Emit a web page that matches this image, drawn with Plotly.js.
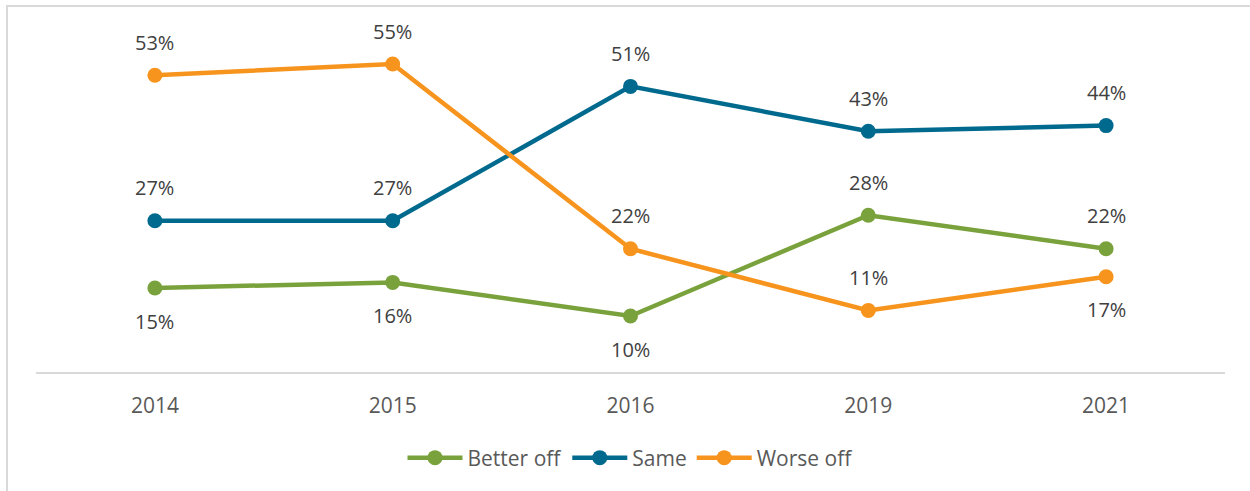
<!DOCTYPE html>
<html>
<head>
<meta charset="utf-8">
<script src="https://cdn.plot.ly/plotly-3.0.1.min.js"></script>
<style>
html,body{margin:0;padding:0;background:#fff;}
#wrap{position:relative;width:1250px;height:491px;overflow:hidden;}
#frame{position:absolute;left:6px;top:5px;width:1300px;height:600px;border-left:2px solid #d9d9d9;border-top:2px solid #d9d9d9;pointer-events:none;}
#chart{position:absolute;left:0;top:0;width:1250px;height:491px;}
</style>
</head>
<body>
<div id="wrap">
<div id="chart"></div>
<div id="frame"></div>
</div>
<script>
const years = ["2014", "2015", "2016", "2019", "2021"];
const betterOff = [15, 16, 10, 28, 22];
const same = [27, 27, 51, 43, 44];
const worseOff = [53, 55, 22, 11, 17];
// +1 = label above the point, -1 = label below
const betterPos = [-1, -1, -1, 1, 1];
const samePos = [1, 1, 1, 1, 1];
const worsePos = [1, 1, 1, 1, -1];

const fontFam = "Open Sans, sans-serif";
function series(name, vals, color) {
  return {
    x: years, y: vals, name: name, type: "scatter", mode: "lines+markers",
    line: {color: color, width: 4.5},
    marker: {color: color, size: 15},
    cliponaxis: false,
    hoverinfo: "x+y"
  };
}
const data = [
  series("Better off", betterOff, "#7AA23C"),
  series("Same", same, "#006A8E"),
  series("Worse off", worseOff, "#F7941D")
];
const annotations = [];
[[betterOff, betterPos], [same, samePos], [worseOff, worsePos]].forEach(([vals, pos]) => {
  vals.forEach((v, i) => {
    annotations.push({
      x: i, y: v, xref: "x", yref: "y", text: v + "%", showarrow: false,
      yshift: 33 * pos[i], font: {family: fontFam, size: 20, color: "#404040"}
    });
  });
});
const layout = {
  width: 1250, height: 491,
  margin: {l: 36, r: 25, t: 36, b: 116},
  paper_bgcolor: "#fff", plot_bgcolor: "#fff",
  showlegend: true,
  legend: {orientation: "h", x: 0.5, xanchor: "center", y: -0.195, yanchor: "top",
    font: {family: fontFam, size: 21, color: "#595959"}, itemwidth: 55, traceorder: "normal"},
  xaxis: {type: "category", range: [-0.5, 4.5], showgrid: false, zeroline: false, showline: true,
    linecolor: "#d9d9d9", linewidth: 2, ticks: "", ticklabelstandoff: 14,
    tickfont: {family: fontFam, size: 21, color: "#595959"}},
  yaxis: {range: [0, 60], visible: false, showgrid: false, zeroline: false},
  annotations: annotations,
  font: {family: fontFam}
};
Plotly.newPlot("chart", data, layout, {displayModeBar: false, staticPlot: true});
</script>
</body>
</html>
